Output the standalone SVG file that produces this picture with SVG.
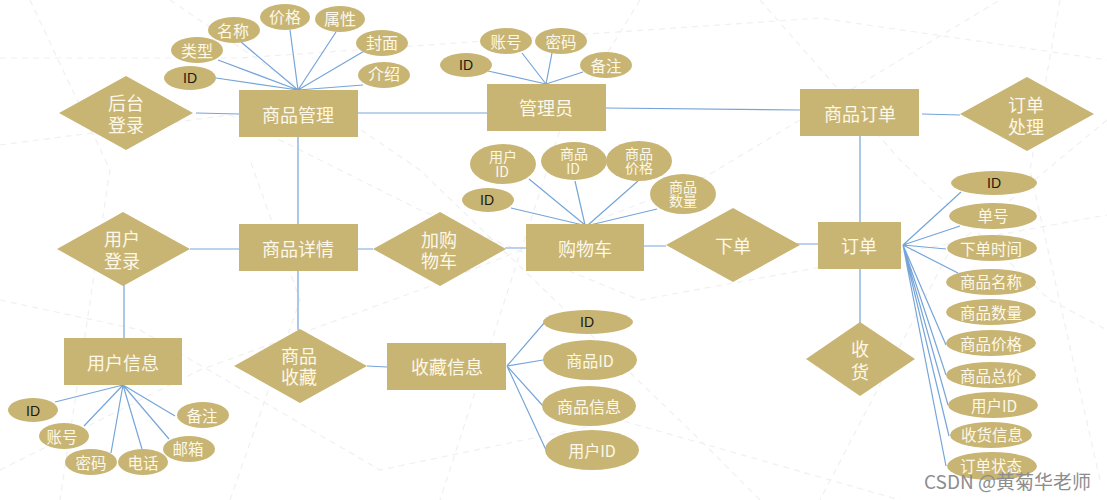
<svg xmlns="http://www.w3.org/2000/svg" width="1107" height="500" viewBox="0 0 1107 500">
<style>
.b{fill:#c8b574}
.l{stroke:#76a5d9;stroke-width:1.2;fill:none}
.g{stroke:#f0f0f3;stroke-width:1.2;stroke-dasharray:6 5;fill:none}
text{font-family:"Noto Sans CJK SC","Liberation Sans",sans-serif;fill:#fdf8e8;text-anchor:middle;dominant-baseline:central}
.t{font-size:18px}.m{font-size:16px}.s{font-size:15.5px}.x{font-size:14px}
.k{fill:#1d1a10;font-family:"Liberation Sans",sans-serif;font-size:14px}
.w{fill:#8d8d8d;font-size:19px;text-anchor:start}
</style>
<rect width="1107" height="500" fill="#fff"/>
<g id="background">
<path class="g" d="M0 58 L240 58 L500 40 L820 18 L1107 60"/>
<path class="g" d="M30 0 L110 170 L60 500"/>
<path class="g" d="M0 145 L230 115 L420 210 L640 300 L1107 215"/>
<path class="g" d="M170 0 L420 170 L700 440 L760 500"/>
<path class="g" d="M0 470 L200 370 L420 290 L700 180 L1000 0"/>
<path class="g" d="M640 0 L560 130 L440 500"/>
<path class="g" d="M760 0 L900 160 L1050 300 L1107 330"/>
<path class="g" d="M1107 120 L950 250 L820 500"/>
<path class="g" d="M0 300 L140 330 L380 470 L620 420 L900 500"/>
<path class="g" d="M1060 0 L1030 170 L1100 480"/>
<path class="g" d="M230 500 L300 300 L250 160"/>
</g>
<g id="connectors">
<path class="l" d="M216 78 L298 90 M218 60 L298 90 M241 42 L298 90 M290 30 L298 90 M336 32 L298 90 M366 50 L298 90 M363 85 L298 90"/>
<path class="l" d="M196 113 L239 114 M358 113 L487 113 M606 108 L800 110 M298 137 L298 224"/>
<path class="l" d="M488 71 L546 84 M522 53 L546 84 M552 53 L546 84 M583 72 L546 84"/>
<path class="l" d="M922 114 L960 115 M860 136 L860 222"/>
<path class="l" d="M529 179 L585 225 M575 181 L585 225 M638 181 L588 225 M657 209 L590 225 M511 208 L583 225"/>
<path class="l" d="M190 249 L239 249 M358 249 L373 249 M505 248 L526 248 M644 246 L666 246 M797 244 L818 244 M860 269 L860 323"/>
<path class="l" d="M124 285 L124 338 M298 271 L298 330 M367 366 L387 367"/>
<path class="l" d="M123 385 L55 402 M123 385 L84 426 M123 385 L111 453 M123 385 L142 449 M123 385 L169 439 M123 385 L175 416"/>
<path class="l" d="M507 366 L545 322 M507 366 L543 360 M507 366 L543 406 M507 366 L546 450"/>
<path class="l" d="M903 245 L961 192 M903 245 L960 226 M903 245 L946 249 M903 245 L958 273 M903 245 L946 345 M903 245 L946 375 M903 245 L948 405 M903 245 L949 436 M903 245 L946 466"/>
</g>
<g id="n1"><rect class="b" x="239" y="90" width="119" height="47"/><text class="t" x="298" y="114">商品管理</text></g>
<g id="n2"><rect class="b" x="487" y="84" width="119" height="47"/><text class="t" x="546" y="107">管理员</text></g>
<g id="n3"><rect class="b" x="800" y="89" width="119" height="47"/><text class="t" x="860" y="113">商品订单</text></g>
<g id="n4"><rect class="b" x="239" y="224" width="119" height="47"/><text class="t" x="298" y="248">商品详情</text></g>
<g id="n5"><rect class="b" x="526" y="224" width="118" height="47"/><text class="t" x="585" y="248">购物车</text></g>
<g id="n6"><rect class="b" x="818" y="222" width="83" height="47"/><text class="t" x="859" y="245">订单</text></g>
<g id="n7"><rect class="b" x="64" y="338" width="118" height="47"/><text class="t" x="123" y="362">用户信息</text></g>
<g id="n8"><rect class="b" x="387" y="343" width="119" height="47"/><text class="t" x="447" y="366">收藏信息</text></g>
<g id="d1"><polygon class="b" points="59,113 126,76 193,113 126,150"/><text class="t" x="126" y="102">后台</text><text class="t" x="126" y="124">登录</text></g>
<g id="d2"><polygon class="b" points="960,114 1027,77 1094,114 1027,151"/><text class="t" x="1026" y="104">订单</text><text class="t" x="1026" y="126">处理</text></g>
<g id="d3"><polygon class="b" points="57,249 123,212 190,249 123,286"/><text class="t" x="122" y="238">用户</text><text class="t" x="122" y="260">登录</text></g>
<g id="d4"><polygon class="b" points="373,249 440,212 506,249 440,286"/><text class="t" x="439" y="239">加购</text><text class="t" x="439" y="260">物车</text></g>
<g id="d5"><polygon class="b" points="666,245 733,208 800,245 733,282"/><text class="t" x="733" y="245">下单</text></g>
<g id="d6"><polygon class="b" points="234,366 300,329 367,366 300,403"/><text class="t" x="299" y="355">商品</text><text class="t" x="299" y="376">收藏</text></g>
<g id="d7"><polygon class="b" points="806,359 860,322 915,359 860,396"/><text class="t" x="860" y="348">收</text><text class="t" x="860" y="371">货</text></g>
<g id="a1"><ellipse class="b" cx="190" cy="78" rx="26" ry="12"/><text class="k" x="190" y="78">ID</text></g>
<g id="a2"><ellipse class="b" cx="197" cy="50" rx="26" ry="13"/><text class="m" x="197" y="50">类型</text></g>
<g id="a3"><ellipse class="b" cx="234" cy="30" rx="26" ry="13"/><text class="m" x="233" y="30">名称</text></g>
<g id="a4"><ellipse class="b" cx="285" cy="17" rx="25" ry="13"/><text class="m" x="285" y="16">价格</text></g>
<g id="a5"><ellipse class="b" cx="340" cy="19" rx="25" ry="13"/><text class="m" x="340" y="18">属性</text></g>
<g id="a6"><ellipse class="b" cx="382" cy="43" rx="26" ry="13"/><text class="m" x="382" y="42">封面</text></g>
<g id="a7"><ellipse class="b" cx="384" cy="75" rx="26" ry="13"/><text class="m" x="384" y="73">介绍</text></g>
<g id="b1"><ellipse class="b" cx="466" cy="65" rx="26" ry="12"/><text class="k" x="466" y="65">ID</text></g>
<g id="b2"><ellipse class="b" cx="506" cy="41" rx="26" ry="13"/><text class="s" x="506" y="41">账号</text></g>
<g id="b3"><ellipse class="b" cx="561" cy="41" rx="26" ry="13"/><text class="s" x="561" y="41">密码</text></g>
<g id="b4"><ellipse class="b" cx="606" cy="65" rx="26" ry="13"/><text class="s" x="606" y="65">备注</text></g>
<g id="c1"><ellipse class="b" cx="488" cy="200" rx="26" ry="12"/><text class="k" x="487" y="200">ID</text></g>
<g id="c2"><ellipse class="b" cx="503" cy="164" rx="33" ry="20"/><text class="x" x="503" y="156">用户</text><text class="x" x="502" y="171">ID</text></g>
<g id="c3"><ellipse class="b" cx="574" cy="161" rx="33" ry="19"/><text class="x" x="574" y="153">商品</text><text class="x" x="573" y="168">ID</text></g>
<g id="c4"><ellipse class="b" cx="639" cy="161" rx="33" ry="20"/><text class="x" x="639" y="153">商品</text><text class="x" x="639" y="167">价格</text></g>
<g id="c5"><ellipse class="b" cx="683" cy="194" rx="33" ry="20"/><text class="x" x="683" y="186">商品</text><text class="x" x="683" y="200">数量</text></g>
<g id="e1"><ellipse class="b" cx="994" cy="183" rx="43" ry="12"/><text class="k" x="994" y="183">ID</text></g>
<g id="e2"><ellipse class="b" cx="993" cy="216" rx="44" ry="13"/><text class="s" x="993" y="215">单号</text></g>
<g id="e3"><ellipse class="b" cx="992" cy="248" rx="45" ry="13"/><text class="s" x="991" y="248">下单时间</text></g>
<g id="e4"><ellipse class="b" cx="991" cy="282" rx="45" ry="13"/><text class="s" x="991" y="281">商品名称</text></g>
<g id="e5"><ellipse class="b" cx="991" cy="312" rx="45" ry="13"/><text class="s" x="991" y="312">商品数量</text></g>
<g id="e6"><ellipse class="b" cx="991" cy="343" rx="45" ry="13"/><text class="s" x="991" y="343">商品价格</text></g>
<g id="e7"><ellipse class="b" cx="991" cy="375" rx="45" ry="13"/><text class="s" x="991" y="375">商品总价</text></g>
<g id="e8"><ellipse class="b" cx="993" cy="405" rx="45" ry="13"/><text class="s" x="994" y="405">用户ID</text></g>
<g id="e9"><ellipse class="b" cx="991" cy="435" rx="41" ry="13"/><text class="s" x="992" y="434">收货信息</text></g>
<g id="e10"><ellipse class="b" cx="992" cy="466" rx="45" ry="14"/><text class="s" x="991" y="465">订单状态</text></g>
<g id="f1"><ellipse class="b" cx="588" cy="322" rx="45" ry="12"/><text class="k" x="587" y="322">ID</text></g>
<g id="f2"><ellipse class="b" cx="590" cy="360" rx="47" ry="20"/><text class="m" x="590" y="360">商品ID</text></g>
<g id="f3"><ellipse class="b" cx="589" cy="406" rx="47" ry="20"/><text class="m" x="589" y="406">商品信息</text></g>
<g id="f4"><ellipse class="b" cx="592" cy="450" rx="47" ry="20"/><text class="m" x="592" y="450">用户ID</text></g>
<g id="g1"><ellipse class="b" cx="33" cy="410" rx="25" ry="12"/><text class="k" x="33" y="411">ID</text></g>
<g id="g2"><ellipse class="b" cx="64" cy="436" rx="25" ry="13"/><text class="s" x="62" y="436">账号</text></g>
<g id="g3"><ellipse class="b" cx="91" cy="462" rx="26" ry="13"/><text class="s" x="91" y="462">密码</text></g>
<g id="g4"><ellipse class="b" cx="143" cy="462" rx="25" ry="13"/><text class="s" x="143" y="462">电话</text></g>
<g id="g5"><ellipse class="b" cx="189" cy="449" rx="26" ry="13"/><text class="s" x="188" y="448">邮箱</text></g>
<g id="g6"><ellipse class="b" cx="203" cy="415" rx="26" ry="13"/><text class="s" x="202" y="415">备注</text></g>
<text class="w" x="924" y="480">CSDN @黄菊华老师</text>
</svg>
